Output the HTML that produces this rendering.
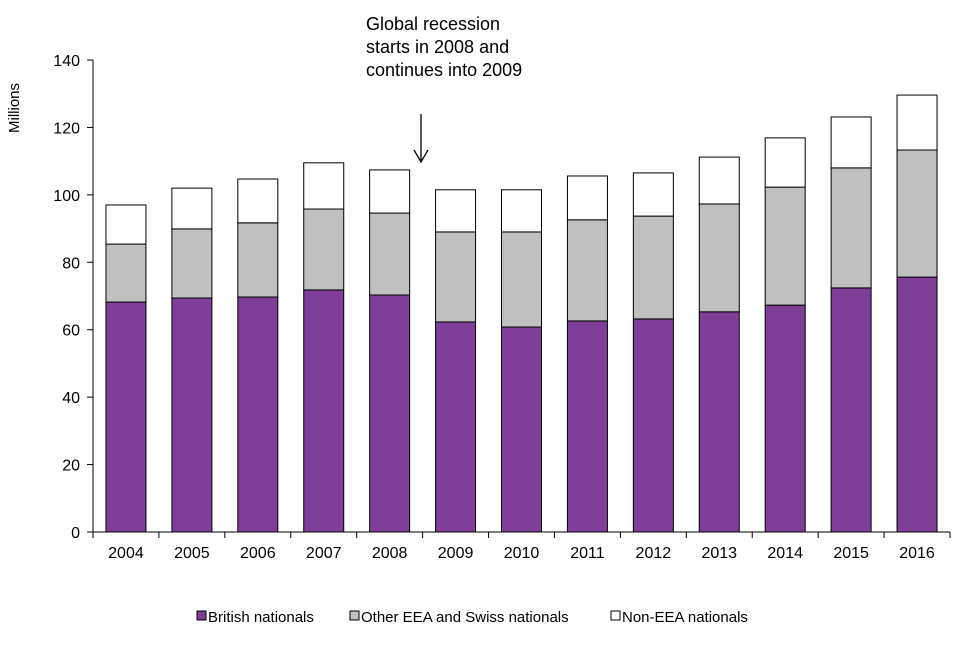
<!DOCTYPE html>
<html><head><meta charset="utf-8"><style>
body{margin:0;background:#fff;font-family:"Liberation Sans",Arial,sans-serif;}
svg text{font-family:"Liberation Sans",Arial,sans-serif;fill:#000;}
</style></head><body>
<svg id="chart" width="960" height="640" xmlns="http://www.w3.org/2000/svg">
<g id="bars"></g>
<g id="axes"></g>
<text x="19" y="108" font-size="15" text-anchor="middle" transform="rotate(-90 19 108)">Millions</text>
<g>
<text x="366" y="30" font-size="18">Global recession</text>
<text x="366" y="53" font-size="18">starts in 2008 and</text>
<text x="366" y="76" font-size="18">continues into 2009</text>
<line x1="421" y1="114" x2="421" y2="160" stroke="#000" stroke-width="1.3"/>
<path d="M414,150 L421,162 L428,150" fill="none" stroke="#000" stroke-width="1.3"/>
</g>
<g id="legend"></g>
</svg>
<script>
const categories=["2004","2005","2006","2007","2008","2009","2010","2011","2012","2013","2014","2015","2016"];
const british=[68.2,69.4,69.7,71.8,70.3,62.3,60.8,62.6,63.2,65.3,67.3,72.4,75.6];
const otherEEA=[17.2,20.5,22.0,24.0,24.3,26.7,28.2,30.0,30.5,32.0,35.0,35.6,37.7];
const nonEEA=[11.6,12.1,13.0,13.7,12.8,12.5,12.5,13.0,12.8,13.9,14.6,15.1,16.3];
const yTicks=[0,20,40,60,80,100,120,140];
const seriesNames=["British nationals","Other EEA and Swiss nationals","Non-EEA nationals"];
const colors=["#7f3f98","#c0c0c0","#ffffff"];
const NS="http://www.w3.org/2000/svg";
const x0=93,x1=950,y0=532,yTop=60,yMax=140;
const band=(x1-x0)/categories.length, bw=40;
function yS(v){return y0-(v/yMax)*(y0-yTop);}
function xS(i){return x0+band*i+band/2;}
function mk(t,a,p){const e=document.createElementNS(NS,t);for(const k in a)e.setAttribute(k,a[k]);p.appendChild(e);return e;}
const bars=document.getElementById('bars'),axes=document.getElementById('axes'),leg=document.getElementById('legend');
const series=[british,otherEEA,nonEEA];
const keys=["british","other-eea","non-eea"];
categories.forEach((c,i)=>{
  let base=0;
  series.forEach((s,k)=>{
    const top=base+s[i];
    const r=mk('rect',{x:xS(i)-bw/2,y:yS(top),width:bw,height:yS(base)-yS(top),fill:colors[k],stroke:"#000","stroke-width":1},bars);
    
    
    base=top;
  });
  const t=mk('text',{x:xS(i),y:558,"font-size":16,"text-anchor":"middle"},axes);t.textContent=c;
  
  
  mk('line',{x1:x0+band*(i+1),x2:x0+band*(i+1),y1:y0,y2:y0+6,stroke:"#000"},axes);
});
mk('line',{x1:x0,x2:x0,y1:yTop,y2:y0,stroke:"#000"},axes);
mk('line',{x1:x0,x2:x1,y1:y0,y2:y0,stroke:"#000"},axes);
mk('line',{x1:x0,x2:x0,y1:y0,y2:y0+6,stroke:"#000"},axes);
yTicks.forEach(v=>{
  mk('line',{x1:x0-6,x2:x0,y1:yS(v),y2:yS(v),stroke:"#000"},axes);
  const t=mk('text',{x:x0-13,y:yS(v)+6,"font-size":16,"text-anchor":"end"},axes);t.textContent=v;
  
  
});
const lx=[197,350,611];
seriesNames.forEach((n,k)=>{
  const g=mk('g',{},leg);
  
  
  mk('rect',{x:lx[k],y:611,width:9,height:9,fill:colors[k],stroke:"#000"},g);
  const t=mk('text',{x:lx[k]+11,y:622,"font-size":15},g);t.textContent=n;
});
</script>
</body></html>
